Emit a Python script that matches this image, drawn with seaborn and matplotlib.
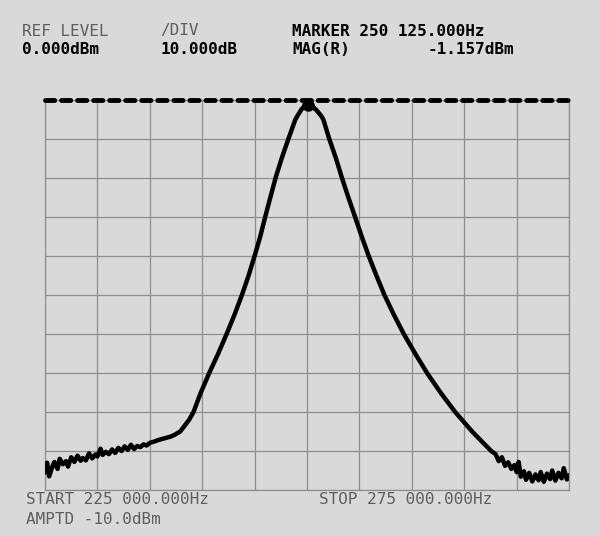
import matplotlib
matplotlib.use("Agg")
import matplotlib.pyplot as plt
import pandas as pd
import seaborn as sns

# sweep 225 kHz .. 275 kHz, ref level 0 dBm, 10 dB/div
freq_khz = [
    225.0, 225.2, 225.4, 225.7, 225.9, 226.2, 226.4, 226.7, 227.0, 227.2,
    227.5, 227.8, 228.1, 228.4, 228.6, 228.9, 229.2, 229.5, 229.8, 230.0,
    230.3, 230.5, 230.8, 231.1, 231.4, 231.7, 232.0, 232.3, 232.6, 232.9,
    233.2, 233.5, 233.8, 234.1, 234.4, 234.7, 235.0, 235.4, 235.8, 236.2,
    236.6, 237.0, 237.4, 237.9, 238.3, 238.75, 239.17, 239.87, 240.67, 241.53,
    242.33, 243.09, 243.79, 244.43, 245.0, 245.54, 246.01, 246.5, 247.0, 247.58,
    248.22, 248.89, 249.1, 249.5, 249.8, 250.1, 250.5, 250.9, 251.34, 251.56,
    252.13, 252.77, 253.34, 253.95, 254.59, 255.22, 255.89, 256.62, 257.39, 258.28,
    259.24, 260.32, 261.46, 262.74, 264.14, 265.76, 266.7, 267.58, 268.0, 268.3,
    268.6, 268.9, 269.2, 269.5, 269.8, 270.0, 270.2, 270.4, 270.7, 270.9,
    271.2, 271.5, 271.8, 272.1, 272.3, 272.6, 272.9, 273.2, 273.4, 273.7,
    274.0, 274.3, 274.5, 274.8, 275.0,
]
level_dbm = [
    -95.5, -93.0, -96.5, -94.0, -92.8, -94.6, -92.0, -93.4, -92.6, -94.0,
    -91.6, -92.8, -91.2, -92.5, -91.8, -92.4, -90.6, -91.9, -90.9, -91.4,
    -89.4, -91.0, -90.2, -90.8, -89.6, -90.5, -89.2, -90.0, -88.8, -89.7,
    -88.4, -89.5, -88.7, -89.0, -88.3, -88.6, -87.9, -87.6, -87.2, -86.9,
    -86.6, -86.3, -85.8, -85.0, -83.6, -82.0, -80.0, -75.0, -70.0, -65.0,
    -60.0, -55.0, -50.0, -45.0, -40.0, -35.0, -30.0, -25.0, -20.0, -15.0,
    -10.0, -5.0, -4.0, -2.3, -1.5, -1.157, -1.6, -2.6, -4.0, -5.0,
    -10.0, -15.0, -20.0, -25.0, -30.0, -35.0, -40.0, -45.0, -50.0, -55.0,
    -60.0, -65.0, -70.0, -75.0, -80.0, -85.0, -87.6, -90.0, -90.8, -92.6,
    -91.6, -93.8, -92.9, -94.6, -93.6, -95.4, -92.8, -96.6, -95.2, -97.4,
    -95.6, -97.8, -96.0, -97.5, -95.4, -97.9, -95.8, -97.2, -95.0, -97.6,
    -95.6, -97.0, -94.4, -97.3, -96.2,
]

ref_level = 0.0
marker_freq = 250.1
marker_level = -1.157

header_top = ["REF LEVEL", "/DIV", "MARKER 250 125.000Hz"]
header_bottom = ["0.000dBm", "10.000dB", "MAG(R)", "-1.157dBm"]
footer = ["START 225 000.000Hz", "STOP 275 000.000Hz", "AMPTD -10.0dBm"]

paper = "#d9d9d9"
sns.set_style("white", {"axes.facecolor": paper, "figure.facecolor": paper})
plt.rcParams["font.family"] = ["DejaVu Sans Mono", "DejaVu Sans"]

trace = pd.DataFrame({"freq": freq_khz, "level": level_dbm})

fig = plt.figure(figsize=(6.0, 5.36), dpi=100)
ax = fig.add_axes([0.075, 0.0858, 0.8733, 0.7276])

ax.set_xlim(225, 275)
ax.set_ylim(-100, 0)
ax.set_xticks([225 + 5 * i for i in range(11)])
ax.set_yticks([-100 + 10 * i for i in range(11)])
ax.tick_params(length=0, labelbottom=False, labelleft=False)
ax.grid(True, color="#8e8e8e", linewidth=0.9)
for s in ax.spines.values():
    s.set_color("#8e8e8e")
    s.set_linewidth(0.9)

# reference level line
ax.plot([225, 275], [ref_level, ref_level], color="black", linewidth=3.5,
        linestyle=(0, (1.9, 1.4)), dash_capstyle="round", clip_on=False, zorder=4)

sns.lineplot(data=trace, x="freq", y="level", ax=ax, color="black",
             linewidth=3.2, estimator=None, sort=False, zorder=5,
             solid_joinstyle="round", solid_capstyle="round")
ax.plot([marker_freq], [marker_level], "o", color="black", markersize=8,
        clip_on=False, zorder=6)
ax.set_xlabel("")
ax.set_ylabel("")

thin = dict(fontsize=11.5, color="#5e5e5e", va="center", ha="left")
bold = dict(fontsize=11.5, color="black", va="center", ha="left", fontweight="bold")


def px(x, y):
    return x / 600, 1 - y / 536


fig.text(*px(22, 31), header_top[0], **thin)
fig.text(*px(160, 31), header_top[1], **thin)
fig.text(*px(292, 31), header_top[2], **bold)
fig.text(*px(22, 50), header_bottom[0], **bold)
fig.text(*px(160, 50), header_bottom[1], **bold)
fig.text(*px(292, 50), header_bottom[2], **bold)
fig.text(*px(428, 50), header_bottom[3], **bold)

fig.text(*px(26, 500), footer[0], **thin)
fig.text(*px(319, 500), footer[1], **thin)
fig.text(*px(26, 519), footer[2], **thin)

fig.savefig("out.png", dpi=100, facecolor=paper)
